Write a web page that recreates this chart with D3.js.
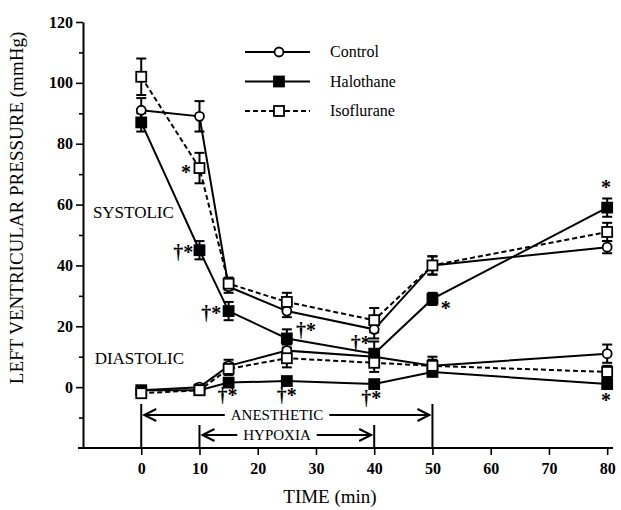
<!DOCTYPE html>
<html>
<head>
<meta charset="utf-8">
<script src="https://cdn.jsdelivr.net/npm/d3@7"></script>
<style>
  body { margin: 0; background: #fff; }
  text { font-family: "Liberation Serif", "Times New Roman", serif; fill: #000; }
</style>
</head>
<body>
<div id="container"></div>
<script>
// data (mmHg, mean +/- SE)
var times = [0, 10, 15, 25, 40, 50, 80];

var controlSys = [91, 89, 33, 25, 19, 40, 46];
var controlSysErr = [4, 5, 2, 2, 3, 3, 2];
var controlDia = [-1, 0, 7, 12, 10, 7, 11];
var controlDiaErr = [1, 1, 2, 2, 2, 3, 3];

var halothaneSys = [87, 45, 25, 16, 11, 29, 59];
var halothaneSysErr = [3, 3, 3, 3, 4, 2, 3];
var halothaneDia = [-1, -1, 1.5, 2, 1, 5, 1];
var halothaneDiaErr = [1, 1, 1, 1, 1, 1, 1];

var isoSys = [102, 72, 34, 28, 22, 40, 51];
var isoSysErr = [6, 5, 2, 3, 4, 3, 3];
var isoDia = [-2, -1, 6, 9.5, 8, 7, 5];
var isoDiaErr = [1, 1, 2, 3, 3, 2, 2];

var seriesNames = ['Control', 'Halothane', 'Isoflurane'];

var yMajorTicks = [0, 20, 40, 60, 80, 100, 120];
var yMinorTicks = [-10, 10, 30, 50, 70, 90, 110];
var xTicks = [0, 10, 20, 30, 40, 50, 60, 70, 80];

// significance marks: [time, value, label]
var marks = [
    [7.7, 70.7, '*'],
    [7.2, 44.4, '\u2020*'],
    [12, 24.4, '\u2020*'],
    [28.3, 18.8, '\u2020*'],
    [37.7, 14.5, '\u2020*'],
    [52.3, 26, '*'],
    [79.8, 65.8, '*'],
    [79.8, -4.2, '*'],
    [14.8, -2.6, '\u2020*'],
    [25, -2.6, '\u2020*'],
    [39.5, -3.6, '\u2020*']
];

// period brackets: [start, end, label]
var periods = [
    [0, 50, 'ANESTHETIC'],
    [10, 40, 'HYPOXIA']
];

var W = 621, H = 510;

var svg = d3.select('#container').append('svg')
    .attr('width', W)
    .attr('height', H)
    .style('display', 'block');

var x = d3.scaleLinear().domain([-10, 81]).range([83, 613]);
var y = d3.scaleLinear().domain([-20, 120]).range([448, 22]);

var series = [
    { name: 'Control', sys: controlSys, sysErr: controlSysErr, dia: controlDia, diaErr: controlDiaErr, marker: 'circle', dash: null },
    { name: 'Halothane', sys: halothaneSys, sysErr: halothaneSysErr, dia: halothaneDia, diaErr: halothaneDiaErr, marker: 'filled', dash: null },
    { name: 'Isoflurane', sys: isoSys, sysErr: isoSysErr, dia: isoDia, diaErr: isoDiaErr, marker: 'open', dash: '5,3' }
];

// ---- axes
var yAxisMajor = svg.append('g')
    .attr('transform', 'translate(' + x(-10) + ',0)')
    .call(d3.axisLeft(y).tickValues(yMajorTicks).tickSize(7).tickSizeOuter(0).tickPadding(3));
var yAxisMinor = svg.append('g')
    .attr('transform', 'translate(' + x(-10) + ',0)')
    .call(d3.axisLeft(y).tickValues(yMinorTicks).tickSize(4).tickSizeOuter(0).tickFormat(''));
yAxisMinor.select('.domain').remove();

var xAxis = svg.append('g')
    .attr('transform', 'translate(0,' + y(-20) + ')')
    .call(d3.axisBottom(x).tickValues(xTicks).tickSize(7).tickSizeOuter(0).tickPadding(8));
xAxis.select('.domain').remove();
xAxis.append('line')
    .attr('x1', x(-10) - 5).attr('x2', x(81))
    .attr('stroke', '#000').attr('stroke-width', 2);

[yAxisMajor, yAxisMinor, xAxis].forEach(function (g) {
    g.selectAll('.domain').attr('stroke', '#000').attr('stroke-width', 2);
    g.selectAll('.tick line').attr('stroke', '#000').attr('stroke-width', 1.6);
    g.selectAll('.tick text')
        .style('font-family', '"Liberation Serif", serif')
        .style('font-size', '16px')
        .style('font-weight', 'bold')
        .attr('fill', '#000');
});

svg.append('text')
    .attr('transform', 'translate(23,' + 208 + ') rotate(-90)')
    .attr('text-anchor', 'middle')
    .style('font-size', '19px')
    .text('LEFT VENTRICULAR PRESSURE (mmHg)');

svg.append('text')
    .attr('x', 330).attr('y', 503)
    .attr('text-anchor', 'middle')
    .style('font-size', '19px')
    .text('TIME  (min)');

// ---- period brackets
function arrowHead(g, px, py, dir) {
    g.append('path')
        .attr('d', 'M' + (px + dir * 12) + ',' + (py - 6) + 'L' + px + ',' + py + 'L' + (px + dir * 12) + ',' + (py + 6))
        .attr('fill', 'none').attr('stroke', '#000').attr('stroke-width', 2);
}

var brackets = svg.append('g');
periods.forEach(function (p, i) {
    var yTop = i === 0 ? 404 : 425;
    var yMid = i === 0 ? 415 : 435;
    var x0 = x(p[0]), x1 = x(p[1]);
    brackets.append('line').attr('x1', x0).attr('x2', x0).attr('y1', yTop).attr('y2', y(-20))
        .attr('stroke', '#000').attr('stroke-width', 2);
    brackets.append('line').attr('x1', x1).attr('x2', x1).attr('y1', yTop).attr('y2', y(-20))
        .attr('stroke', '#000').attr('stroke-width', 2);
    var label = brackets.append('text')
        .attr('x', 277).attr('y', yMid + 5)
        .attr('text-anchor', 'middle')
        .style('font-size', '15px')
        .text(p[2]);
    var half = label.node().getComputedTextLength() / 2 + 6;
    brackets.append('line').attr('x1', x0 + 3).attr('x2', 277 - half).attr('y1', yMid).attr('y2', yMid)
        .attr('stroke', '#000').attr('stroke-width', 2);
    brackets.append('line').attr('x1', 277 + half).attr('x2', x1 - 3).attr('y1', yMid).attr('y2', yMid)
        .attr('stroke', '#000').attr('stroke-width', 2);
    arrowHead(brackets, x0 + 3, yMid, 1);
    arrowHead(brackets, x1 - 3, yMid, -1);
});

// ---- series
var line = d3.line()
    .x(function (d) { return x(d.t); })
    .y(function (d) { return y(d.v); });

function points(vals, errs) {
    return times.map(function (t, i) { return { t: t, v: vals[i], e: errs[i] }; });
}

var plot = svg.append('g');

series.forEach(function (s) {
    [points(s.sys, s.sysErr), points(s.dia, s.diaErr)].forEach(function (pts) {
        plot.append('path')
            .datum(pts)
            .attr('d', line)
            .attr('fill', 'none')
            .attr('stroke', '#000')
            .attr('stroke-width', 2)
            .attr('stroke-dasharray', s.dash);
    });
});

series.forEach(function (s) {
    [points(s.sys, s.sysErr), points(s.dia, s.diaErr)].forEach(function (pts) {
        var eb = plot.append('g').selectAll('g').data(pts).enter().append('g');
        eb.append('line')
            .attr('x1', function (d) { return x(d.t); })
            .attr('x2', function (d) { return x(d.t); })
            .attr('y1', function (d) { return y(d.v - d.e); })
            .attr('y2', function (d) { return y(d.v + d.e); })
            .attr('stroke', '#000').attr('stroke-width', 2);
        [-1, 1].forEach(function (sgn) {
            eb.append('line')
                .attr('x1', function (d) { return x(d.t) - 5; })
                .attr('x2', function (d) { return x(d.t) + 5; })
                .attr('y1', function (d) { return y(d.v + sgn * d.e); })
                .attr('y2', function (d) { return y(d.v + sgn * d.e); })
                .attr('stroke', '#000').attr('stroke-width', 2);
        });
    });
});

function drawMarker(g, kind, cx, cy) {
    if (kind === 'circle') {
        g.append('circle').attr('cx', cx).attr('cy', cy).attr('r', 4.5)
            .attr('fill', '#fff').attr('stroke', '#000').attr('stroke-width', 1.8);
    } else {
        g.append('rect').attr('x', cx - 5).attr('y', cy - 5).attr('width', 10).attr('height', 10)
            .attr('fill', kind === 'filled' ? '#000' : '#fff')
            .attr('stroke', '#000').attr('stroke-width', 1.8);
    }
}

series.forEach(function (s) {
    [s.sys, s.dia].forEach(function (vals) {
        times.forEach(function (t, i) {
            drawMarker(plot, s.marker, x(t), y(vals[i]));
        });
    });
});

// ---- significance marks
svg.append('g').selectAll('text')
    .data(marks)
    .enter().append('text')
    .attr('x', function (d) { return x(d[0]); })
    .attr('y', function (d) { return y(d[1]) + 7; })
    .attr('text-anchor', 'middle')
    .style('font-size', '20px')
    .style('font-weight', 'bold')
    .text(function (d) { return d[2]; });

// ---- phase labels
svg.append('text').attr('x', x(-8.3)).attr('y', y(60) + 13)
    .style('font-size', '17px').text('SYSTOLIC');
svg.append('text').attr('x', x(-8)).attr('y', y(10) + 7)
    .style('font-size', '17px').text('DIASTOLIC');

// ---- legend
var legend = svg.append('g');
series.forEach(function (s, i) {
    var ly = 52 + i * 29.5;
    legend.append('line')
        .attr('x1', 245).attr('x2', 310).attr('y1', ly).attr('y2', ly)
        .attr('stroke', '#000').attr('stroke-width', 2)
        .attr('stroke-dasharray', s.dash);
    drawMarker(legend, s.marker, 279, ly);
    legend.append('text')
        .attr('x', 330).attr('y', ly + 5)
        .style('font-size', '16px')
        .text(seriesNames[i]);
});
</script>
</body>
</html>
